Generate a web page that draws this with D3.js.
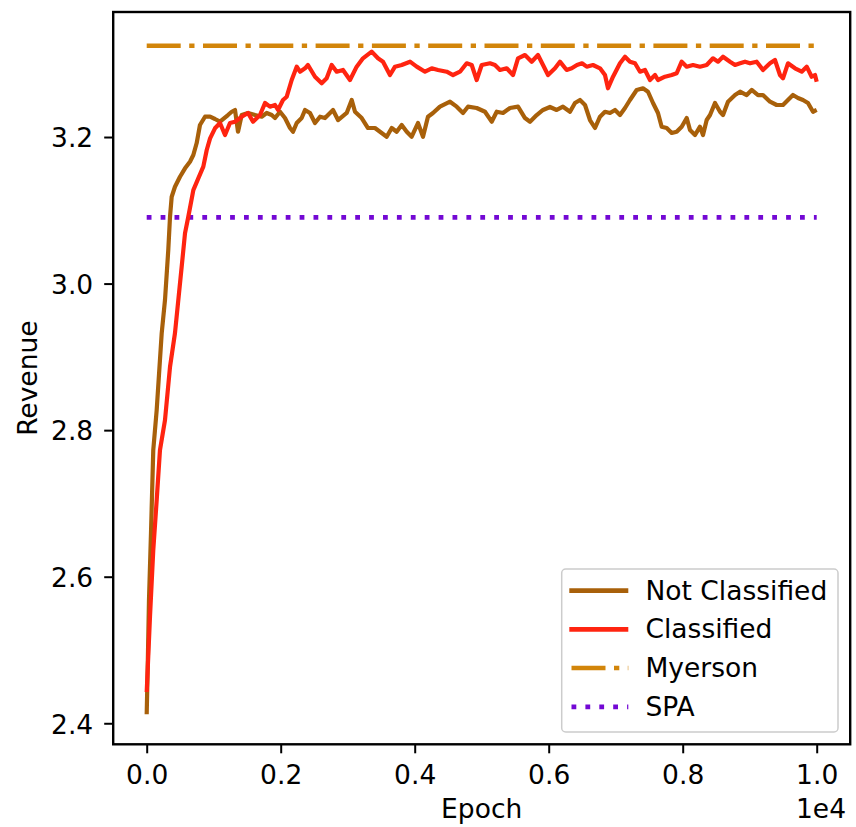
<!DOCTYPE html>
<html>
<head>
<meta charset="utf-8">
<script src="https://cdn.jsdelivr.net/npm/d3@7"></script>
<style>
  html, body { margin: 0; padding: 0; background: #fff; }
  text { font-family: "DejaVu Sans", sans-serif; }
</style>
</head>
<body>
<svg id="chart" width="856" height="827"></svg>
<script>
// ---- data ----
const notClassifiedEpochs = [0,15,34,64,98,149,224,273,322,348,373,422,497,572,646,696,746,795,870,946,
  1019,1094,1213,1269,1318,1363,1418,1512,1618,1716,1791,1866,1915,1990,2064,2139,2184,2239,2313,2363,
  2437,2512,2587,2661,2781,2856,2985,3060,3109,3209,3303,3407,3507,3582,3657,3731,3806,3881,3955,4049,
  4124,4198,4273,4377,4527,4627,4721,4795,4925,5049,5149,5224,5318,5422,5542,5646,5721,5821,5915,6019,
  6119,6213,6318,6392,6467,6542,6616,6691,6766,6840,6915,6990,7064,7139,7213,7313,7407,7482,7557,7631,
  7686,7761,7836,7910,7985,8060,8109,8184,8258,8303,8358,8408,8482,8557,8602,8676,8781,8856,8955,9030,
  9124,9198,9303,9403,9497,9571,9646,9721,9795,9870,9945,10000];
const notClassifiedRevenue = [2.4123,2.4764,2.5679,2.6594,2.7727,2.8273,2.9324,2.9775,3.0457,3.0912,3.1185,3.1321,3.1458,3.1573,3.1663,3.1754,3.1918,3.2164,3.2277,3.2277,
  3.2246,3.2209,3.2300,3.2345,3.2369,3.2072,3.2300,3.2328,3.2300,3.2277,3.2328,3.2300,3.2259,3.2345,3.2259,3.2123,3.2072,3.2191,3.2259,3.2369,
  3.2328,3.2191,3.2277,3.2259,3.2369,3.2232,3.2328,3.2505,3.2345,3.2259,3.2123,3.2123,3.2055,3.2004,3.2123,3.2072,3.2164,3.2072,3.2004,3.2191,
  3.2004,3.2277,3.2328,3.2414,3.2482,3.2414,3.2328,3.2414,3.2396,3.2345,3.2209,3.2345,3.2328,3.2396,3.2414,3.2259,3.2209,3.2300,3.2369,3.2410,
  3.2369,3.2414,3.2345,3.2464,3.2505,3.2437,3.2232,3.2123,3.2277,3.2345,3.2328,3.2369,3.2300,3.2396,3.2505,3.2642,3.2665,3.2618,3.2464,3.2328,
  3.2141,3.2123,3.2055,3.2072,3.2141,3.2259,3.2096,3.2027,3.2141,3.2027,3.2232,3.2300,3.2464,3.2345,3.2300,3.2482,3.2573,3.2618,3.2573,3.2642,
  3.2573,3.2573,3.2482,3.2437,3.2437,3.2505,3.2573,3.2532,3.2505,3.2464,3.2345,3.2369];

const classifiedEpochs = [0,49,98,149,198,273,348,422,522,572,621,696,770,845,896,946,1019,1094,1169,1243,
  1318,1418,1512,1587,1691,1766,1840,1915,1960,2034,2090,2164,2239,2288,2363,2407,2512,2612,2686,2761,
  2836,2930,3034,3134,3228,3358,3452,3527,3631,3706,3806,3930,4030,4154,4254,4348,4478,4572,4676,4776,
  4851,4925,5000,5124,5198,5273,5373,5467,5542,5646,5746,5840,5915,5990,6094,6168,6268,6343,6422,6497,
  6567,6661,6766,6840,6885,6960,7064,7139,7213,7288,7363,7437,7512,7587,7631,7736,7836,7910,7985,8060,
  8154,8258,8358,8452,8527,8602,8706,8781,8856,8930,9005,9104,9198,9303,9377,9452,9497,9571,9676,9776,
  9851,9925,9975,10000];
const classifiedRevenue = [2.4427,2.5451,2.6362,2.7044,2.7727,2.8137,2.8864,2.9324,3.0229,3.0689,3.0912,3.1276,3.1436,3.1595,3.1823,3.1982,3.2119,3.2191,3.2027,3.2191,
  3.2209,3.2277,3.2328,3.2209,3.2300,3.2464,3.2414,3.2437,3.2369,3.2505,3.2550,3.2778,3.2960,3.2891,3.2938,3.2983,3.2823,3.2733,3.2801,3.2983,
  3.2891,3.2915,3.2778,3.2960,3.3074,3.3165,3.3074,3.3028,3.2846,3.2960,3.2983,3.3028,3.2960,3.2891,3.2938,3.2915,3.2891,3.2846,3.2891,3.3006,
  3.2983,3.2778,3.2983,3.3006,3.2983,3.2915,3.2938,3.2846,3.3074,3.3119,3.3028,3.3119,3.2983,3.2846,3.2938,3.3028,3.2915,3.2938,3.2983,3.3006,
  3.2960,3.2983,3.2938,3.2846,3.2665,3.2823,3.3006,3.3096,3.3028,3.3006,3.2891,3.2915,3.2778,3.2846,3.2778,3.2823,3.2846,3.2870,3.3028,3.2960,
  3.2983,3.2960,3.2983,3.3074,3.3028,3.3096,3.3028,3.2983,3.3006,3.3028,3.3006,3.3028,3.2915,3.3006,3.3051,3.2846,3.2801,3.3006,3.2938,3.2891,
  3.2960,3.2823,3.2846,3.2755];

const myersonRevenue = 3.3246;
const spaRevenue = 3.0904;
const epochRange = [0, 10000];

const xTicks = [0, 2000, 4000, 6000, 8000, 10000];
const yTicks = [2.4, 2.6, 2.8, 3.0, 3.2];

const legendLabels = ["Not Classified", "Classified", "Myerson", "SPA"];

// ---- layout ----
const svg = d3.select("#chart");
const pLeft = 113.2, pRight = 850.2, pTop = 12, pBottom = 744.3;
const FS = 26.5;

const x = d3.scaleLinear().domain([-500, 10500]).range([pLeft, pRight]);
const y = d3.scaleLinear().domain([2.3713, 3.3706]).range([pBottom, pTop]);

const colors = {
  nc: "#a8600a",
  c: "#ff2410",
  my: "#d2850a",
  spa: "#7308d4"
};

svg.append("rect").attr("width", 856).attr("height", 827).attr("fill", "#fff");

svg.append("defs").append("clipPath").attr("id", "clip")
  .append("rect").attr("x", pLeft).attr("y", pTop).attr("width", pRight - pLeft).attr("height", pBottom - pTop);

const plot = svg.append("g").attr("clip-path", "url(#clip)");

// reference lines
const hline = (v) => [[epochRange[0], v], [epochRange[1], v]];
const lineGen = d3.line().x(d => x(d[0])).y(d => y(d[1]));

plot.append("path").datum(hline(myersonRevenue))
  .attr("d", lineGen).attr("fill", "none").attr("stroke", colors.my)
  .attr("stroke-width", 4.5).attr("stroke-dasharray", "34,8.5,5.3,8.5");

plot.append("path").datum(hline(spaRevenue))
  .attr("d", lineGen).attr("fill", "none").attr("stroke", colors.spa)
  .attr("stroke-width", 4.7).attr("stroke-dasharray", "4.8,9.1");

const ncData = notClassifiedEpochs.map((e, i) => [e, notClassifiedRevenue[i]]);
const cData = classifiedEpochs.map((e, i) => [e, classifiedRevenue[i]]);

plot.append("path").datum(ncData)
  .attr("d", lineGen).attr("fill", "none").attr("stroke", colors.nc)
  .attr("stroke-width", 4.2).attr("stroke-linejoin", "round");

plot.append("path").datum(cData)
  .attr("d", lineGen).attr("fill", "none").attr("stroke", colors.c)
  .attr("stroke-width", 4.2).attr("stroke-linejoin", "round");

// axes
const xAxis = d3.axisBottom(x).tickValues(xTicks).tickSize(9).tickPadding(12).tickSizeOuter(0)
  .tickFormat(d => (d / 1e4).toFixed(1));
const gx = svg.append("g").attr("transform", `translate(0,${pBottom})`).call(xAxis);
gx.select(".domain").remove();
gx.selectAll(".tick line").attr("stroke", "#000").attr("stroke-width", 2);
gx.selectAll(".tick text").attr("font-size", FS).attr("fill", "#000").attr("font-family", "DejaVu Sans");

const yAxis = d3.axisLeft(y).tickValues(yTicks).tickSize(9).tickPadding(11).tickSizeOuter(0)
  .tickFormat(d3.format(".1f"));
const gy = svg.append("g").attr("transform", `translate(${pLeft},0)`).call(yAxis);
gy.select(".domain").remove();
gy.selectAll(".tick line").attr("stroke", "#000").attr("stroke-width", 2);
gy.selectAll(".tick text").attr("font-size", FS).attr("fill", "#000").attr("font-family", "DejaVu Sans").attr("dy", "0.37em");

// frame
svg.append("rect").attr("x", pLeft).attr("y", pTop).attr("width", pRight - pLeft).attr("height", pBottom - pTop)
  .attr("fill", "none").attr("stroke", "#000").attr("stroke-width", 2.4);

// axis labels
svg.append("text").attr("x", (pLeft + pRight) / 2).attr("y", 818).attr("text-anchor", "middle")
  .attr("font-size", FS).text("Epoch");
svg.append("text").attr("x", 846).attr("y", 818).attr("text-anchor", "end")
  .attr("font-size", FS).text("1e4");
svg.append("text").attr("transform", `translate(37,${(pTop + pBottom) / 2}) rotate(-90)`)
  .attr("text-anchor", "middle").attr("font-size", FS).text("Revenue");

// legend
const lg = svg.append("g");
lg.append("rect").attr("x", 561.7).attr("y", 569).attr("width", 276.3).attr("height", 163)
  .attr("rx", 4).attr("fill", "#fff").attr("fill-opacity", 0.8)
  .attr("stroke", "#cccccc").attr("stroke-width", 1.5);

const legendStyles = [
  { color: colors.nc, dash: null, w: 4.8 },
  { color: colors.c, dash: null, w: 4.8 },
  { color: colors.my, dash: "34,8.5,5.3,8.5", w: 4.5 },
  { color: colors.spa, dash: "4.8,9.1", w: 4.7 }
];
legendLabels.forEach((lab, i) => {
  const yy = 590.7 + i * 38.7;
  const st = legendStyles[i];
  const ln = lg.append("line").attr("x1", i >= 2 ? 571.5 : 569.3).attr("x2", 628.3)
    .attr("y1", yy).attr("y2", yy).attr("stroke", st.color).attr("stroke-width", st.w);
  if (st.dash) ln.attr("stroke-dasharray", st.dash);
  lg.append("text").attr("x", 645.5).attr("y", yy + 9).attr("font-size", FS).attr("fill", "#000").text(lab);
});
</script>
</body>
</html>
